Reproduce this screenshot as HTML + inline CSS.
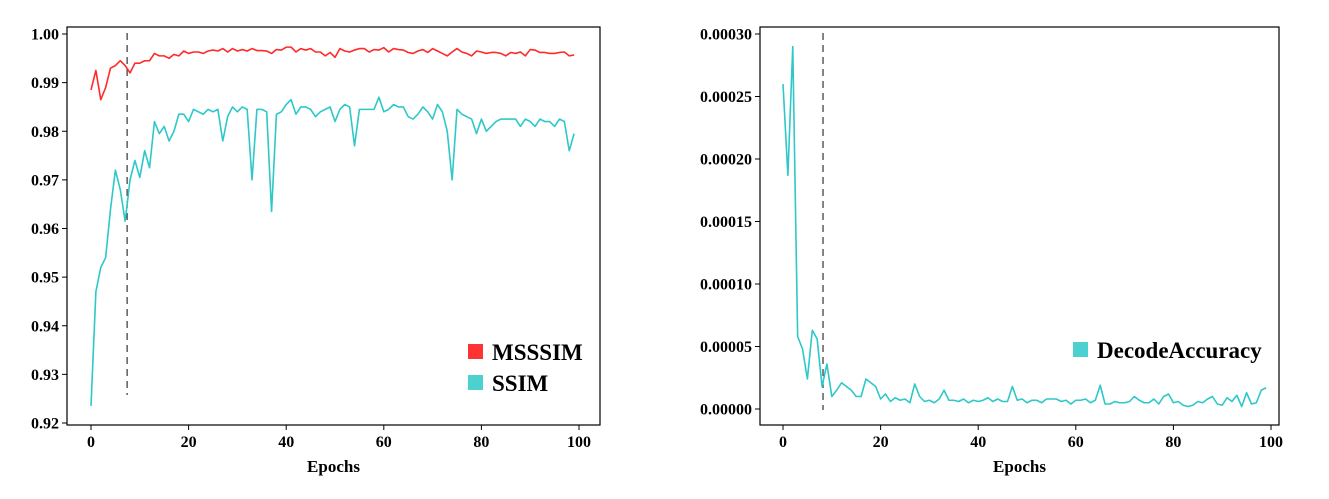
<!DOCTYPE html>
<html><head><meta charset="utf-8"><style>
body{margin:0;background:#fff}
svg text{font-family:"Liberation Serif",serif;font-weight:bold;fill:#000}
</style></head><body>
<svg id="c" width="1329" height="494"></svg>
<script>
const epochs=[...Array(100).keys()];
const ssim=[0.9235,0.947,0.952,0.954,0.964,0.972,0.968,0.9615,0.970,0.974,0.9705,0.976,0.9725,0.982,0.9795,0.981,0.978,0.980,0.9835,0.9835,0.982,0.9845,0.984,0.9835,0.9845,0.984,0.9845,0.978,0.983,0.985,0.984,0.985,0.9845,0.970,0.9845,0.9845,0.984,0.9635,0.9835,0.984,0.9855,0.9865,0.9835,0.985,0.985,0.9845,0.983,0.984,0.9845,0.985,0.982,0.9845,0.9855,0.985,0.977,0.9845,0.9845,0.9845,0.9845,0.987,0.984,0.9845,0.9855,0.985,0.985,0.983,0.9825,0.9835,0.985,0.984,0.9825,0.9855,0.984,0.980,0.970,0.9845,0.9835,0.983,0.9825,0.9795,0.9825,0.980,0.981,0.982,0.9825,0.9825,0.9825,0.9825,0.981,0.9825,0.982,0.981,0.9825,0.982,0.982,0.981,0.9825,0.982,0.976,0.9795];
const msssim=[0.9885,0.9925,0.9865,0.989,0.993,0.9935,0.9945,0.9935,0.992,0.994,0.994,0.9945,0.9945,0.996,0.9955,0.9955,0.995,0.9958,0.9955,0.9965,0.996,0.9963,0.9963,0.996,0.9965,0.9967,0.9965,0.997,0.9963,0.997,0.9965,0.9968,0.9965,0.997,0.9966,0.9966,0.9965,0.996,0.9968,0.9967,0.9973,0.9973,0.9963,0.997,0.9967,0.997,0.9963,0.9963,0.9955,0.9962,0.9952,0.997,0.9965,0.9963,0.9967,0.997,0.997,0.9963,0.9968,0.9967,0.9972,0.9963,0.997,0.9968,0.9967,0.9962,0.996,0.9965,0.9968,0.9962,0.997,0.9965,0.996,0.9955,0.9963,0.997,0.9963,0.996,0.9955,0.9965,0.9963,0.996,0.9962,0.9962,0.996,0.9955,0.9962,0.996,0.9963,0.9955,0.9968,0.9967,0.9962,0.9962,0.996,0.996,0.9962,0.9963,0.9955,0.9957];
const decode=[26,18.7,29,5.8,4.8,2.4,6.3,5.6,1.8,3.6,1.0,1.5,2.1,1.8,1.5,1.0,1.0,2.4,2.1,1.8,0.8,1.2,0.6,0.9,0.7,0.8,0.5,2.0,1.0,0.6,0.7,0.5,0.8,1.5,0.7,0.7,0.6,0.8,0.5,0.7,0.6,0.7,0.9,0.6,0.8,0.6,0.6,1.8,0.7,0.8,0.5,0.7,0.7,0.5,0.8,0.8,0.8,0.6,0.7,0.4,0.7,0.7,0.8,0.5,0.7,1.9,0.4,0.4,0.6,0.5,0.5,0.6,1.0,0.7,0.5,0.5,0.8,0.4,1.0,1.2,0.5,0.6,0.3,0.2,0.3,0.6,0.5,0.8,1.0,0.4,0.3,0.9,0.6,1.1,0.2,1.3,0.4,0.5,1.5,1.7].map(v=>v*1e-5);
const xTicks=[0,20,40,60,80,100];
const leftYTicks=[0.92,0.93,0.94,0.95,0.96,0.97,0.98,0.99,1.00];
const rightYTicks=[0,0.00005,0.0001,0.00015,0.0002,0.00025,0.0003];
const NS="http://www.w3.org/2000/svg",svg=document.getElementById('c');
function el(t,a,txt){const e=document.createElementNS(NS,t);for(const k in a)e.setAttribute(k,a[k]);if(txt!==undefined)e.textContent=txt;svg.appendChild(e);return e;}
function chart(o){
 const X=v=>o.x0+(v-0)/100*(o.x1-o.x0);
 const Y=v=>o.y0+(v-o.vmin)/(o.vmax-o.vmin)*(o.y1-o.y0);
 let f=el('rect',{x:o.fl,y:27,width:o.fr-o.fl,height:398,fill:'none',stroke:'#000','stroke-width':1.2});
 
 xTicks.forEach(t=>{let l=el('line',{x1:X(t),x2:X(t),y1:425,y2:430,stroke:'#000'});
  let tx=el('text',{x:X(t),y:447,'text-anchor':'middle','font-size':16},t);});
 o.yt.forEach(t=>{let l=el('line',{x1:o.fl-5,x2:o.fl,y1:Y(t),y2:Y(t),stroke:'#000'});
  let tx=el('text',{x:o.fl-8,y:Y(t)+5.5,'text-anchor':'end','font-size':16},o.fmt(t));});
 let xl=el('text',{x:(o.fl+o.fr)/2,y:472,'text-anchor':'middle','font-size':17},'Epochs');
 let d=el('line',{x1:X(o.vl),x2:X(o.vl),y1:33,y2:o.vlb,stroke:'#333','stroke-width':1.2,'stroke-dasharray':'7,5'});
 o.series.forEach(s=>{let p=el('polyline',{points:epochs.map(i=>X(i)+','+Y(s.d[i])).join(' '),fill:'none',stroke:s.c,'stroke-width':1.6,'stroke-linejoin':'round'});});
 o.legend.forEach(g=>{let r=el('rect',{x:g.x,y:g.y-8,width:15,height:15,fill:g.c});
  let t=el('text',{x:g.x+24,y:g.y+8,'font-size':23},g.t);});
}
chart({p:'left',fl:67,fr:600,x0:91,x1:579,y0:423,y1:34,vmin:0.92,vmax:1.0,yt:leftYTicks,fmt:t=>t.toFixed(2),vl:7.4,vlb:395,
 series:[{d:msssim,c:'#ff2a2a',n:'msssim'},{d:ssim,c:'#2ec8c8',n:'ssim'}],
 legend:[{x:468,y:352,c:'#ff3333',t:'MSSSIM',n:'msssim'},{x:468,y:383,c:'#4dd0d0',t:'SSIM',n:'ssim'}]});
chart({p:'right',fl:760,fr:1279,x0:783,x1:1271,y0:409,y1:34,vmin:0,vmax:0.0003,yt:rightYTicks,fmt:t=>t.toFixed(5),vl:8.2,vlb:410,
 series:[{d:decode,c:'#2ec8c8',n:'decode-accuracy'}],
 legend:[{x:1073,y:350,c:'#4dd0d0',t:'DecodeAccuracy',n:'decode-accuracy'}]});
</script>
</body></html>
